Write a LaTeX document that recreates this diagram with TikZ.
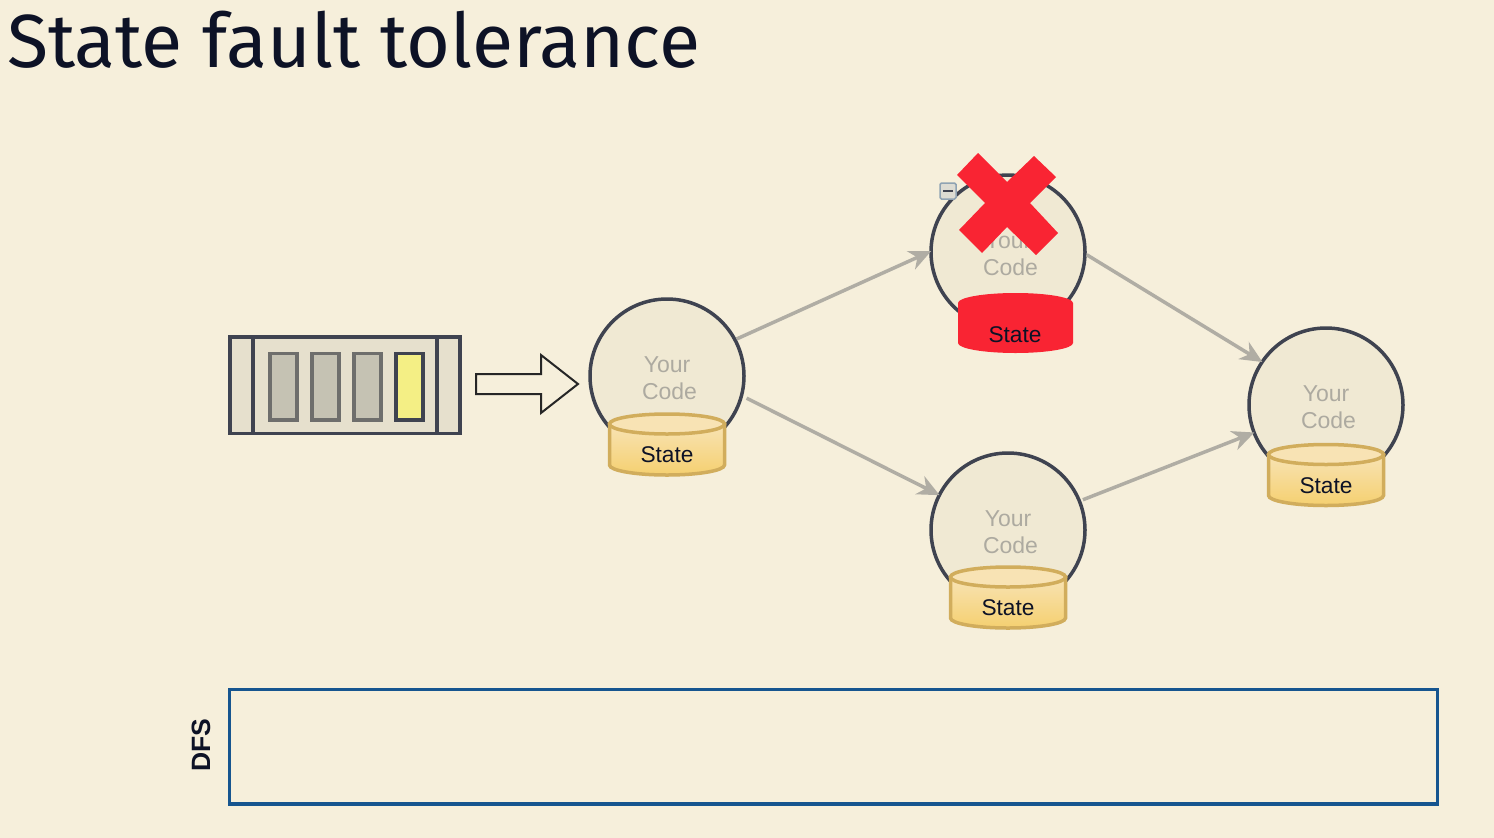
\documentclass[tikz,border=0pt]{standalone}
\usepackage{fontspec}
\setmainfont{Liberation Sans}
\newfontfamily\titlefont{Fira Sans}
\usetikzlibrary{arrows.meta}
\definecolor{slidebg}{HTML}{F6EFDB}
\definecolor{darkline}{HTML}{3F4350}
\definecolor{inktext}{HTML}{0D1226}
\definecolor{flowgray}{HTML}{B0ADA4}
\definecolor{codegray}{HTML}{ADAAA0}
\definecolor{crossred}{HTML}{F92433}
\definecolor{dbline}{HTML}{D1AD5C}
\definecolor{dbtop}{HTML}{F8E3B4}
\definecolor{dbbottom}{HTML}{F5D070}
\definecolor{dfsblue}{HTML}{16558F}
\definecolor{workerfill}{HTML}{F0E9D3}
\definecolor{queuefill}{HTML}{E6E0CD}
\definecolor{slotgray}{HTML}{C5C2B3}
\definecolor{slotline}{HTML}{6E6E6C}
\definecolor{slotyellow}{HTML}{F4EF85}
\definecolor{iconline}{HTML}{8FA3B3}
\definecolor{iconfill}{HTML}{DDDCD3}
\tikzset{
  codetext/.style={text=codegray,align=center,inner sep=0pt,yshift=-1.7pt,font=\fontsize{23}{27}\selectfont},
  worker/.style={circle,draw=darkline,line width=3.5pt,fill=workerfill,minimum size=154pt,inner sep=0pt,
    label={[codetext]center:Your\\\hspace{5pt}Code}},
  flow/.style={draw=flowgray,line width=3.5pt,shorten >=-2pt,-{Stealth[length=22pt,width=20pt,inset=7pt]}},
  slot/.style={draw=#1,line width=3.5pt,fill=slotgray},
  statelabel/.style={font=\fontsize{22.7}{27}\selectfont,text=inktext,inner sep=0pt},
}
\begin{document}
\begin{tikzpicture}[x=1pt,y=-1pt]
  \useasboundingbox[fill=slidebg] (0,0) rectangle (1494,838);

  \node[anchor=base west,inner sep=0pt,text=inktext,font=\titlefont\fontsize{75.3}{80}\selectfont] (title) at (7,67) {State fault tolerance};

  % queue
  \draw[line width=3.5pt,draw=darkline,fill=queuefill] (230,337) rectangle (460,433.5);
  \draw[line width=3.5pt,draw=darkline] (253,337) -- (253,433.5) (437,337) -- (437,433.5);
  \foreach \x in {270,312,354}{
    \draw[slot=slotline] (\x,353.5) rectangle (\x+27,420);
  }
  \draw[slot=darkline,fill=slotyellow] (396,353.5) rectangle (423,420);

  \draw[line width=2pt,draw=black!85,fill=slidebg,line join=miter]
    (476,374) -- (541,374) -- (541,355) -- (578,384) -- (541,413) -- (541,394) -- (476,394) -- cycle;

  % workers
  \node[worker] (workerA) at (667,376) {};
  \node[worker] (workerB) at (1008,252) {};
  \node[worker] (workerC) at (1008,530) {};
  \node[worker] (workerD) at (1326,405) {};

  \draw[flow] (workerA.28) -- (workerB.180);
  \draw[flow,shorten <=4pt] (workerA.-15) -- (workerC.153);
  \draw[flow] (workerB.-2) -- (workerD.146);
  \draw[flow,shorten <=2pt] (workerC.22) -- (workerD.201);

  % state stores
  \foreach \cx/\cy/\nm in {667/454/A,1008/607/C,1326/484.5/D}{
    \draw[line width=3.5pt,draw=dbline,top color=dbtop,bottom color=dbbottom]
      (\cx-57.5,\cy-30) -- (\cx-57.5,\cy+11) arc[x radius=57.5,y radius=10,start angle=180,end angle=0] -- (\cx+57.5,\cy-30) -- cycle;
    \draw[line width=3.5pt,draw=dbline,fill=dbtop] (\cx,\cy-30) ellipse[x radius=57.5,y radius=10];
    \node[statelabel] (state\nm) at (\cx,\cy+1) {State};
  }

  % failed worker
  \fill[crossred] (958,303) arc[x radius=57.5,y radius=10,start angle=180,end angle=360]
    -- (1073,343) arc[x radius=57.5,y radius=10,start angle=0,end angle=180] -- cycle;
  \node[statelabel] (stateB) at (1015,335) {State};
  \draw[line width=1.5pt,draw=iconline,fill=iconfill,rounded corners=1.5pt] (940,183) rectangle (956,199);
  \draw[line width=2pt,draw=darkline] (943,191) -- (953,191);
  \fill[crossred] (978,153) -- (1007,182) -- (1034,156) -- (1056,177) -- (1030,203) -- (1058,233)
    -- (1036,255) -- (1007,227) -- (982,253) -- (959,230) -- (985,203) -- (957,175) -- cycle;

  % storage
  \node[draw=dfsblue,line width=3.5pt,minimum width=1208pt,minimum height=114.5pt,inner sep=0pt,outer sep=0pt] (dfs) at (833.5,746.5) {};
  \node[rotate=90,font=\bfseries\fontsize{26.5}{30}\selectfont,text=inktext,inner sep=0pt] (dfslabel) at (201,745) {DFS};
\end{tikzpicture}
\end{document}
